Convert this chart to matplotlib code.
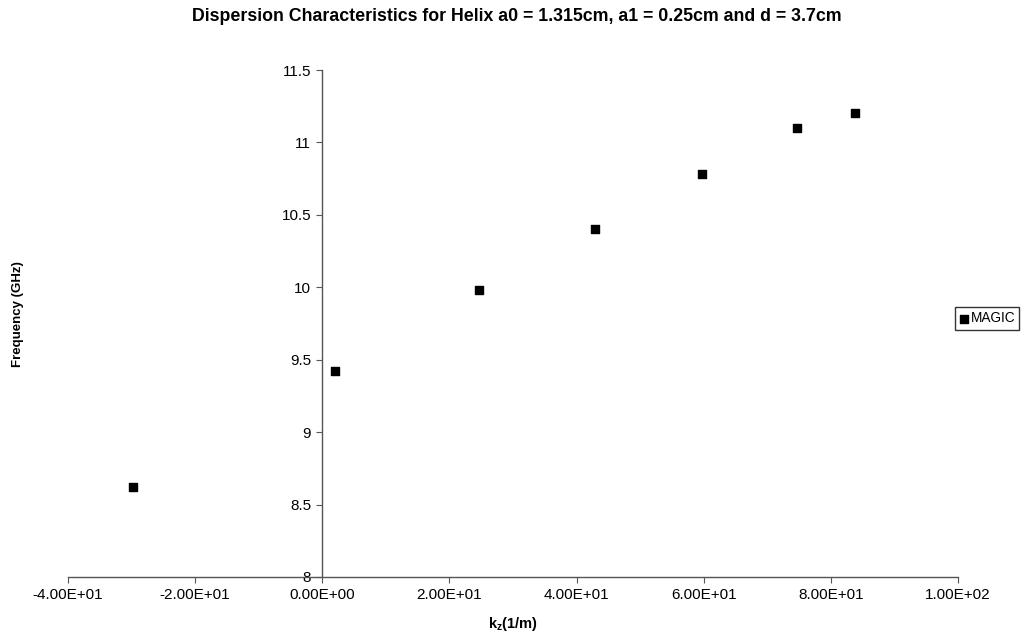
import matplotlib
matplotlib.use("Agg")
import matplotlib.pyplot as plt

plt.rcParams["font.family"] = ["Liberation Sans", "DejaVu Sans"]
plt.rcParams["mathtext.fontset"] = "custom"
plt.rcParams["mathtext.rm"] = "Liberation Sans"
plt.rcParams["mathtext.bf"] = "Liberation Sans:bold"

# MAGIC simulation points
kz = [-29.8, 2.0, 24.6, 42.9, 59.7, 74.7, 83.8]
freq = [8.62, 9.42, 9.98, 10.40, 10.78, 11.10, 11.20]

xticks = [-40, -20, 0, 20, 40, 60, 80, 100]
yticks = [8, 8.5, 9, 9.5, 10, 10.5, 11, 11.5]

fig = plt.figure(figsize=(10.32, 6.37), dpi=100)
ax = fig.add_axes([0.0659, 0.0942, 0.8624, 0.7959])

ax.scatter(kz, freq, marker="s", s=40, color="black", label="MAGIC", zorder=3)

ax.set_xlim(-40, 100)
ax.set_ylim(8, 11.5)
ax.set_xticks(xticks)
ax.set_xticklabels(["%.2E" % v for v in xticks])
ax.set_yticks(yticks)
ax.set_yticklabels(["%g" % v for v in yticks])

ax.spines["left"].set_position(("data", 0))
ax.spines["bottom"].set_position(("data", 8))
ax.spines["top"].set_visible(False)
ax.spines["right"].set_visible(False)
for s in ("left", "bottom"):
    ax.spines[s].set_color("#555555")
    ax.spines[s].set_linewidth(1.0)
ax.tick_params(direction="out", length=4, color="#555555", labelsize=11, pad=4)

fig.text(0.501, 0.974, "Dispersion Characteristics for Helix a0 = 1.315cm, a1 = 0.25cm and d = 3.7cm",
         ha="center", va="center", fontsize=12.8, fontweight="bold")
fig.text(0.497, 0.02, r"k$_\mathbf{z}$(1/m)", ha="center", va="center",
         fontsize=10.5, fontweight="bold")
fig.text(0.017, 0.507, "Frequency (GHz)", ha="center", va="center",
         rotation=90, fontsize=9.5, fontweight="bold")

leg = ax.legend(loc="center left", bbox_to_anchor=(0.9966, 0.51), frameon=True,
                fancybox=False, edgecolor="black", fontsize=9.8, handletextpad=0.15,
                borderpad=0.3, borderaxespad=0, handlelength=0.7, markerscale=0.85)
leg.get_frame().set_linewidth(1.0)

fig.savefig("out.png", dpi=100)
